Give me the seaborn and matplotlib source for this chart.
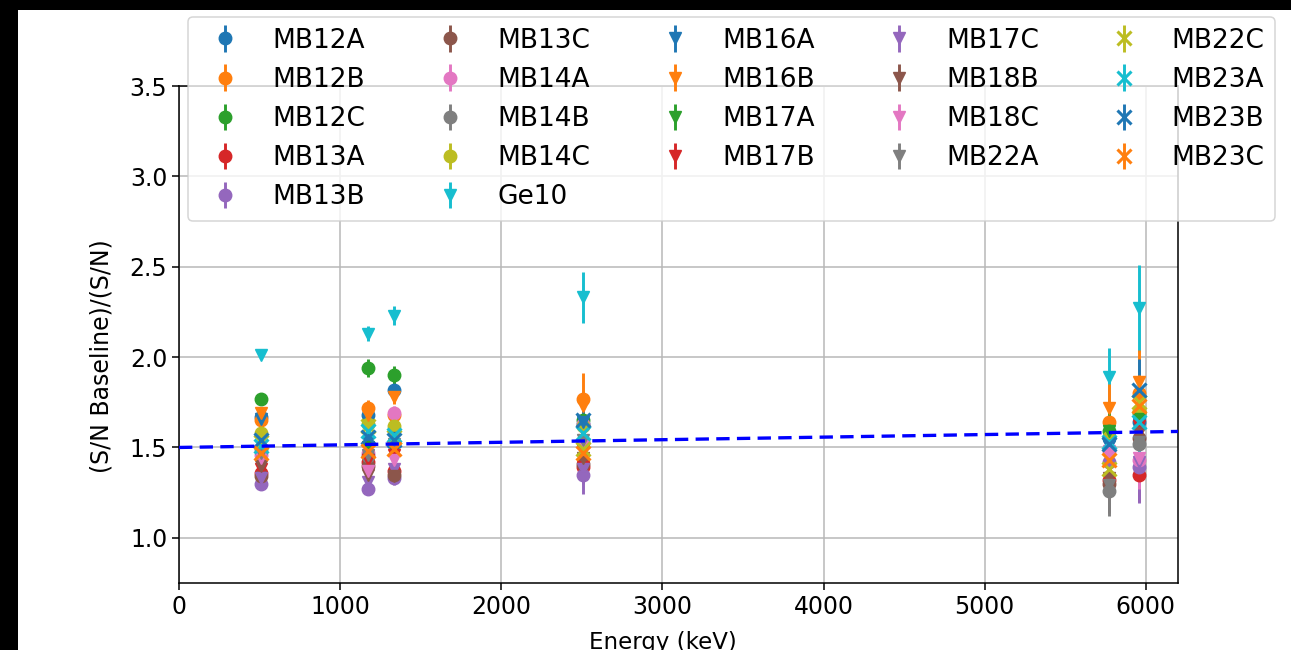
import numpy as np
import pandas as pd
import matplotlib
matplotlib.use("Agg")
import matplotlib.pyplot as plt
from matplotlib.patches import Rectangle
import seaborn as sns

# ---------------- data ----------------
series_names = ["MB12A", "MB12B", "MB12C", "MB13A", "MB13B", "MB13C", "MB14A",
                "MB14B", "MB14C", "Ge10", "MB16A", "MB16B", "MB17A", "MB17B",
                "MB17C", "MB18B", "MB18C", "MB22A", "MB22C", "MB23A", "MB23B",
                "MB23C"]
energies = [511, 1173, 1332, 2505, 5770, 5960]

# ratio values per energy, in series order
ratio_511 = [1.67, 1.65, 1.77, 1.36, 1.30, 1.34, 1.46, 1.49, 1.58, 2.01, 1.66,
             1.69, 1.44, 1.38, 1.33, 1.40, 1.44, 1.47, 1.53, 1.51, 1.54, 1.47]
ratio_1173 = [1.68, 1.72, 1.94, 1.42, 1.27, 1.40, 1.47, 1.45, 1.63, 2.13, 1.53,
              1.68, 1.50, 1.43, 1.31, 1.35, 1.37, 1.46, 1.62, 1.59, 1.56, 1.48]
ratio_1332 = [1.82, 1.68, 1.90, 1.37, 1.33, 1.35, 1.69, 1.52, 1.62, 2.23, 1.55,
              1.78, 1.49, 1.46, 1.38, 1.34, 1.43, 1.52, 1.56, 1.57, 1.54, 1.49]
ratio_2505 = [1.63, 1.77, 1.65, 1.39, 1.35, 1.41, 1.63, 1.53, 1.62, 2.33, 1.64,
              1.73, 1.48, 1.39, 1.38, 1.44, 1.51, 1.54, 1.49, 1.58, 1.65, 1.47]
ratio_5770 = [1.55, 1.64, 1.59, 1.32, 1.42, 1.30, 1.48, 1.26, 1.56, 1.89, 1.51,
              1.72, 1.59, 1.32, 1.40, 1.33, 1.48, 1.29, 1.38, 1.53, 1.52, 1.43]
ratio_5960 = [1.64, 1.80, 1.69, 1.35, 1.39, 1.55, 1.43, 1.52, 1.70, 2.27, 1.63,
              1.86, 1.66, 1.62, 1.42, 1.58, 1.44, 1.53, 1.75, 1.64, 1.82, 1.73]

# uncertainties per energy, in series order
err_511 = [0.03, 0.03, 0.03, 0.03, 0.02, 0.03, 0.03, 0.03, 0.03, 0.02, 0.03,
           0.03, 0.03, 0.03, 0.03, 0.03, 0.03, 0.03, 0.03, 0.03, 0.03, 0.03]
err_1173 = [0.04, 0.04, 0.05, 0.04, 0.03, 0.04, 0.04, 0.04, 0.04, 0.04, 0.04,
            0.04, 0.04, 0.04, 0.04, 0.04, 0.04, 0.04, 0.04, 0.04, 0.04, 0.04]
err_1332 = [0.04, 0.04, 0.05, 0.04, 0.04, 0.04, 0.04, 0.04, 0.04, 0.05, 0.04,
            0.04, 0.04, 0.04, 0.04, 0.04, 0.04, 0.04, 0.04, 0.04, 0.04, 0.04]
err_2505 = [0.08, 0.14, 0.09, 0.08, 0.11, 0.09, 0.08, 0.08, 0.08, 0.14, 0.08,
            0.09, 0.08, 0.08, 0.08, 0.08, 0.08, 0.08, 0.08, 0.08, 0.08, 0.08]
err_5770 = [0.12, 0.13, 0.13, 0.11, 0.12, 0.16, 0.12, 0.14, 0.12, 0.16, 0.12,
            0.13, 0.12, 0.11, 0.12, 0.11, 0.12, 0.12, 0.11, 0.12, 0.12, 0.12]
err_5960 = [0.16, 0.18, 0.17, 0.15, 0.20, 0.16, 0.15, 0.16, 0.16, 0.24, 0.18,
            0.18, 0.16, 0.15, 0.16, 0.16, 0.17, 0.16, 0.16, 0.17, 0.17, 0.17]

series_markers = ["o"] * 9 + ["v"] * 9 + ["x"] * 4

fit_energy = [0, 7000]
fit_ratio = [1.50, 1.60]

# ---------------- style ----------------
sns.set_theme(style="ticks")
plt.rcParams["font.family"] = ["DejaVu Sans"]
plt.rcParams["text.color"] = "black"
plt.rcParams["axes.labelcolor"] = "black"
plt.rcParams["axes.edgecolor"] = "black"
plt.rcParams["axes.linewidth"] = 1.1
plt.rcParams["xtick.color"] = "black"
plt.rcParams["ytick.color"] = "black"

W, H = 1291, 650
fig = plt.figure(figsize=(W / 100, H / 100), dpi=100, facecolor="black")
fig.add_artist(Rectangle((18 / W, 0), 1, 640 / H, transform=fig.transFigure,
                         facecolor="white", edgecolor="none", zorder=-10))

ax = fig.add_axes([179 / W, 1 - 583 / H, (1178 - 179) / W, (583 - 86) / H])
ax.set_facecolor("white")

palette = sns.color_palette("tab10", 10)
ratio_cols = [ratio_511, ratio_1173, ratio_1332, ratio_2505, ratio_5770, ratio_5960]
err_cols = [err_511, err_1173, err_1332, err_2505, err_5770, err_5960]

for i, name in enumerate(series_names):
    y = [col[i] for col in ratio_cols]
    e = [col[i] for col in err_cols]
    ax.errorbar(energies, y, yerr=e, fmt=series_markers[i], color=palette[i % 10],
                markersize=9 if series_markers[i] != "x" else 10,
                markeredgewidth=2.2 if series_markers[i] == "x" else 1.0,
                elinewidth=2.1, capsize=0, label=name, linestyle="none")

fit_df = pd.DataFrame({"energy": fit_energy, "ratio": fit_ratio})
sns.lineplot(data=fit_df, x="energy", y="ratio", ax=ax, color="blue",
             linestyle=(0, (4, 2.2)), linewidth=2.4, legend=False, zorder=10)

ax.set_xlim(0, 6200)
ax.set_ylim(0.75, 3.5)
ax.set_xticks([0, 1000, 2000, 3000, 4000, 5000, 6000])
ax.set_yticks([1.0, 1.5, 2.0, 2.5, 3.0, 3.5])
ax.grid(True, color="#b8b8b8", linewidth=1.1)
for s in ax.spines.values():
    s.set_visible(True)
    s.set_color("black")
    s.set_linewidth(1.1)
ax.tick_params(axis="both", labelsize=17, length=5, width=1.1, direction="out",
               colors="black", labelcolor="black")
ax.set_xlabel("Energy (keV)", fontsize=16.5, color="black")
ax.set_ylabel("(S/N Baseline)/(S/N)", fontsize=17, color="black")
ax.xaxis.set_label_coords((663 - 179) / 999, -(631 - 583) / 497)
ax.yaxis.set_label_coords(-(179 - 113) / 999, (583 - 356) / 497)

leg = ax.legend(ncol=5, fontsize=19, loc="upper left",
                bbox_to_anchor=(188 / W, 1 - 17 / H), bbox_transform=fig.transFigure,
                borderaxespad=0, frameon=True, framealpha=0.8, fancybox=True,
                columnspacing=2.2)
leg.get_frame().set_edgecolor("#cccccc")
leg.get_frame().set_linewidth(1.1)
for t in leg.get_texts():
    t.set_color("black")

fig.savefig("out.png", dpi=100, facecolor=fig.get_facecolor())
